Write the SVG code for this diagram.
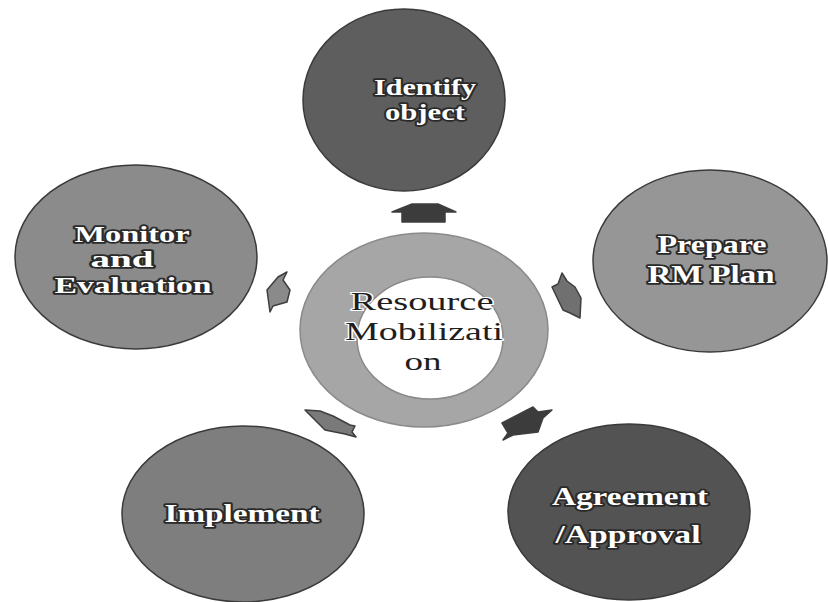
<svg xmlns="http://www.w3.org/2000/svg" width="828" height="602" viewBox="0 0 828 602">
<defs>
<style>
.node{stroke:#3a3a3a;stroke-width:1.5}
.lbl{font-family:"Liberation Serif","Times New Roman",serif;font-weight:bold;fill:#ffffff;stroke:#2a2a2a;stroke-width:3.5;paint-order:stroke;stroke-linejoin:round;text-anchor:middle}
.ctr{font-family:"Liberation Serif","Times New Roman",serif;fill:#1e1e1e;stroke:#ffffff;stroke-width:2;paint-order:stroke;text-anchor:middle}
.arr{stroke:#3e3e3e;stroke-width:1.5;stroke-linejoin:round}
</style>
</defs>
<rect width="828" height="602" fill="#ffffff"/>
<g id="connectors">
<path class="arr" fill="#3c3c3c" d="M392,212 L412,204 L438,204 L456,212 L445,212 L445,222 L402,222 L402,212 Z"/>
<path class="arr" fill="#707070" d="M562,273 L567,281 L575,287 L581,298 L580,318 L570,313 L563,310 L552,287 L558,284 Z"/>
<path class="arr" fill="#3c3c3c" d="M502,423 L533,407 L538,412 L552,410 L543,418 L538,432 L513,435 L503,440 L508,433 Z"/>
<path class="arr" fill="#7a7a7a" d="M305,410 L320,411 L333,416 L350,425 L355,426 L352,432 L356,437 L345,434 L325,430 L315,420 Z"/>
<path class="arr" fill="#8a8a8a" d="M287,272 L278,277 L267,290 L270,312 L273,306 L287,302 L290,290 L283,280 Z"/>
</g>
<g id="center">
<path fill="#a6a6a6" fill-rule="evenodd" stroke="#8a8a8a" stroke-width="1.5" d="M300,330 A124,97 0 1 0 548,330 A124,97 0 1 0 300,330 Z M357,338 A73,61 0 1 1 503,338 A73,61 0 1 1 357,338 Z"/>
<text class="ctr" font-size="25" x="422" y="310" textLength="143" lengthAdjust="spacingAndGlyphs">Resource</text>
<text class="ctr" font-size="25" x="424" y="340" textLength="158" lengthAdjust="spacingAndGlyphs">Mobilizati</text>
<text class="ctr" font-size="25" x="423" y="370" textLength="37" lengthAdjust="spacingAndGlyphs">on</text>
</g>
<g id="identify">
<ellipse class="node" cx="404" cy="100" rx="101" ry="91" fill="#5e5e5e"/>
<text class="lbl" font-size="24" x="425" y="95" textLength="102" lengthAdjust="spacingAndGlyphs">Identify</text>
<text class="lbl" font-size="24" x="425" y="120" textLength="80" lengthAdjust="spacingAndGlyphs">object</text>
</g>
<g id="prepare">
<ellipse class="node" cx="710" cy="261" rx="117" ry="91" fill="#969696"/>
<text class="lbl" font-size="25" x="712" y="253" textLength="109" lengthAdjust="spacingAndGlyphs">Prepare</text>
<text class="lbl" font-size="25" x="711" y="283" textLength="127" lengthAdjust="spacingAndGlyphs">RM Plan</text>
</g>
<g id="agreement">
<ellipse class="node" cx="629" cy="512" rx="121" ry="88" fill="#535353"/>
<text class="lbl" font-size="25" x="630" y="505" textLength="156" lengthAdjust="spacingAndGlyphs">Agreement</text>
<text class="lbl" font-size="25" x="628" y="543" textLength="145" lengthAdjust="spacingAndGlyphs">/Approval</text>
</g>
<g id="implement">
<ellipse class="node" cx="243" cy="514" rx="121" ry="88" fill="#7e7e7e"/>
<text class="lbl" font-size="26" x="242" y="522" textLength="155" lengthAdjust="spacingAndGlyphs">Implement</text>
</g>
<g id="monitor">
<ellipse class="node" cx="136" cy="257" rx="121" ry="92" fill="#8b8b8b"/>
<text class="lbl" font-size="24" x="132" y="242" textLength="115" lengthAdjust="spacingAndGlyphs">Monitor</text>
<text class="lbl" font-size="24" x="122" y="267" textLength="63" lengthAdjust="spacingAndGlyphs">and</text>
<text class="lbl" font-size="24" x="133" y="293" textLength="157" lengthAdjust="spacingAndGlyphs">Evaluation</text>
</g>
</svg>
